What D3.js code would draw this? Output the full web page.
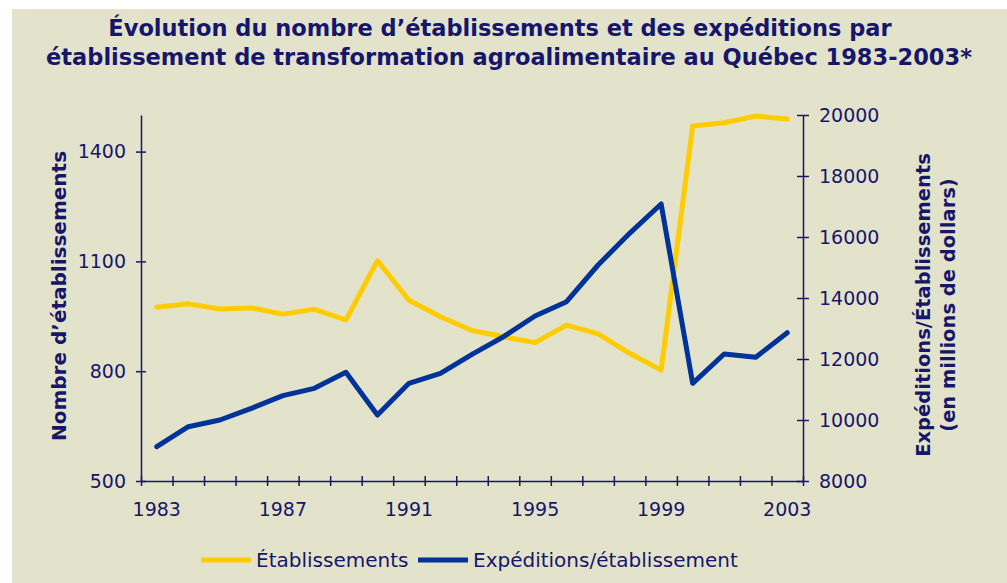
<!DOCTYPE html>
<html>
<head>
<meta charset="utf-8">
<script src="https://cdn.jsdelivr.net/npm/d3@7"></script>
<style>
  body { margin: 0; background: #fff; }
  svg { display: block; }
</style>
</head>
<body>
<svg width="1007" height="583"></svg>
<script>
// valeurs
var annees = [1983, 1984, 1985, 1986, 1987, 1988, 1989, 1990, 1991, 1992, 1993,
  1994, 1995, 1996, 1997, 1998, 1999, 2000, 2001, 2002, 2003];
var etablissements = [975, 984, 970, 973, 956, 969, 940, 1102, 994, 949, 911,
  894, 878, 926, 902, 849, 803, 1470, 1479, 1497, 1489];
var expeditions = [9125, 9780, 10000, 10383, 10798, 11039, 11563, 10164, 11202, 11530, 12150,
  12731, 13410, 13880, 15082, 16121, 17082, 11203, 12164, 12056, 12862];
var ticksGauche = [500, 800, 1100, 1400];
var ticksDroite = [8000, 10000, 12000, 14000, 16000, 18000, 20000];
var anneesLabels = [1983, 1987, 1991, 1995, 1999, 2003];

var navy = "#16166b";
var jaune = "#ffcc00";
var bleu = "#003399";

var svg = d3.select("svg");
var margin = {top: 115, right: 204, bottom: 102, left: 141};
var width = 1007 - margin.left - margin.right;
var height = 583 - margin.top - margin.bottom;

svg.append("rect")
  .attr("x", 12).attr("y", 9)
  .attr("width", 1007 - 12).attr("height", 583 - 9)
  .attr("fill", "#e3e3cb");

// titre
var titre = svg.append("text")
  .attr("text-anchor", "middle")
  .attr("font-family", "DejaVu Sans")
  .attr("font-weight", "bold")
  .attr("font-size", 22.5)
  .attr("fill", navy);
titre.append("tspan").attr("x", 500).attr("y", 36)
  .text("Évolution du nombre d’établissements et des expéditions par");
titre.append("tspan").attr("x", 509).attr("y", 65)
  .text("établissement de transformation agroalimentaire au Québec 1983-2003*");

var g = svg.append("g")
  .attr("transform", "translate(" + margin.left + "," + margin.top + ")");

var x = d3.scaleBand()
  .domain(annees)
  .range([0, width]);

var xTicks = d3.scaleLinear()
  .domain([0, annees.length])
  .range([0, width]);

var yG = d3.scaleLinear()
  .domain([500, 1500])
  .range([height, 0]);

var yD = d3.scaleLinear()
  .domain([8000, 20000])
  .range([height, 0]);

function styleAxe(sel) {
  sel.select(".domain").attr("stroke", navy).attr("stroke-width", 1.5);
  sel.selectAll(".tick line").attr("stroke", navy).attr("stroke-width", 1.5);
  sel.selectAll("text")
    .attr("fill", navy)
    .attr("font-family", "DejaVu Sans")
    .attr("font-size", 19);
}

// axe X : graduations aux limites des années
var axeX = g.append("g")
  .attr("transform", "translate(0," + height + ")")
  .call(d3.axisBottom(xTicks).ticks(annees.length).tickSize(5).tickSizeOuter(0).tickFormat(""));
axeX.selectAll(".tick line").attr("y1", -5);
styleAxe(axeX);

// étiquettes des années au centre des catégories
var labelsX = g.append("g")
  .attr("transform", "translate(0," + height + ")")
  .call(d3.axisBottom(x).tickValues(anneesLabels).tickSize(0).tickPadding(22));
labelsX.select(".domain").remove();
styleAxe(labelsX);

var axeG = g.append("g")
  .call(d3.axisLeft(yG).tickValues(ticksGauche.concat([1500])).tickSize(5).tickSizeOuter(0).tickPadding(10)
    .tickFormat(function(d) { return d === 1500 ? "" : d; }));
axeG.selectAll(".tick line").attr("x1", 5);
axeG.selectAll(".tick").filter(function(d) { return d === 1500; }).select("line").remove();
styleAxe(axeG);

var axeD = g.append("g")
  .attr("transform", "translate(" + width + ",0)")
  .call(d3.axisRight(yD).tickValues(ticksDroite).tickSize(6).tickSizeOuter(0).tickPadding(10)
    .tickFormat(d3.format("d")));
axeD.selectAll(".tick line").attr("x1", -6);
styleAxe(axeD);

// titres des axes
svg.append("text")
  .attr("transform", "translate(66,296) rotate(-90)")
  .attr("text-anchor", "middle")
  .attr("font-family", "DejaVu Sans")
  .attr("font-weight", "bold")
  .attr("font-size", 20)
  .attr("fill", navy)
  .text("Nombre d’établissements");

var titreD = svg.append("text")
  .attr("transform", "translate(923,305) rotate(-90)")
  .attr("text-anchor", "middle")
  .attr("font-family", "DejaVu Sans")
  .attr("font-weight", "bold")
  .attr("font-size", 19.5)
  .attr("fill", navy);
titreD.append("tspan").attr("x", 0).attr("y", 7).text("Expéditions/Établissements");
titreD.append("tspan").attr("x", 0).attr("y", 32).text("(en millions de dollars)");

var cx = function(d, i) { return x(annees[i]) + x.bandwidth() / 2; };

var ligneG = d3.line()
  .x(cx)
  .y(function(d) { return yG(d); });

var ligneD = d3.line()
  .x(cx)
  .y(function(d) { return yD(d); });

g.append("path")
  .datum(etablissements)
  .attr("fill", "none")
  .attr("stroke", jaune)
  .attr("stroke-width", 5)
  .attr("stroke-linejoin", "round")
  .attr("stroke-linecap", "round")
  .attr("d", ligneG);

g.append("path")
  .datum(expeditions)
  .attr("fill", "none")
  .attr("stroke", bleu)
  .attr("stroke-width", 5)
  .attr("stroke-linejoin", "round")
  .attr("stroke-linecap", "round")
  .attr("d", ligneD);

// légende
var legende = [
  {nom: "Établissements", couleur: jaune, x: 201},
  {nom: "Expéditions/établissement", couleur: bleu, x: 418}
];

var leg = svg.append("g")
  .selectAll("g")
  .data(legende)
  .enter().append("g")
    .attr("transform", function(d) { return "translate(" + d.x + ",560)"; });

leg.append("line")
  .attr("x1", 0).attr("x2", 50)
  .attr("stroke", function(d) { return d.couleur; })
  .attr("stroke-width", 5);

leg.append("text")
  .attr("x", 55)
  .attr("dy", "0.35em")
  .attr("font-family", "DejaVu Sans")
  .attr("font-size", 20)
  .attr("fill", navy)
  .text(function(d) { return d.nom; });
</script>
</body>
</html>
